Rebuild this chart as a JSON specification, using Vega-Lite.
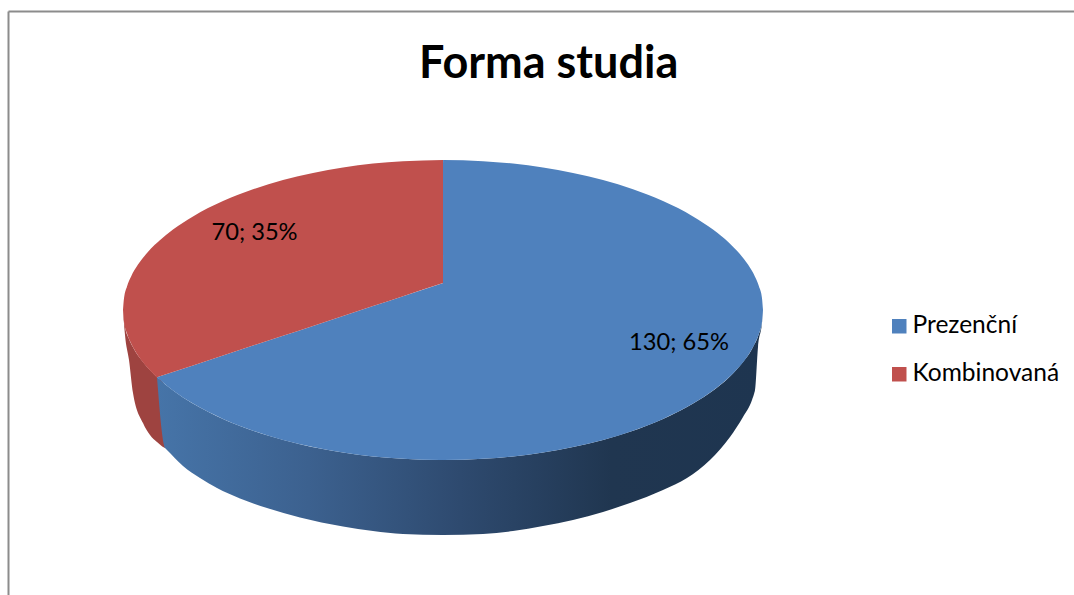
{
"$schema":"https://vega.github.io/schema/vega-lite/v6.json",
"width":1074,"height":595,"padding":0,"autosize":{"type":"none"},
"background":"white",
"title":{"text":"Forma studia","font":"Lato","fontSize":45,"fontWeight":"bold","color":"#000000","anchor":"start","dx":419,"baseline":"alphabetic","offset":-123},
"config":{"view":{"stroke":null}},
"datasets":{
"frame":[{"x":-434.5,"x2":631,"y":298.5,"y2":298.5},{"x":-434.5,"x2":-434.5,"y":298.5,"y2":-285}],
"sideBlue":[{"x":-286,"y":-67.3,"y2":-67.3},{"x":-278,"y":-74.2,"y2":-138},{"x":-277,"y":-75,"y2":-139},{"x":-260,"y":-87.5,"y2":-156},{"x":-243,"y":-97.6,"y2":-168},{"x":-226,"y":-106.2,"y2":-178},{"x":-203,"y":-116,"y2":-188.5},{"x":-176,"y":-125.3,"y2":-198},{"x":-143,"y":-134.2,"y2":-207.5},{"x":-100,"y":-142.5,"y2":-216.5},{"x":-70,"y":-146.4,"y2":-221},{"x":-40,"y":-148.8,"y2":-224},{"x":0,"y":-150,"y2":-225},{"x":40,"y":-148.8,"y2":-224},{"x":70,"y":-146.4,"y2":-221},{"x":100,"y":-142.5,"y2":-216},{"x":130,"y":-137.1,"y2":-210},{"x":160,"y":-129.9,"y2":-202},{"x":187,"y":-121.7,"y2":-193},{"x":220,"y":-108.9,"y2":-180},{"x":244,"y":-97,"y2":-168},{"x":267,"y":-82.7,"y2":-150},{"x":287,"y":-66.4,"y2":-127},{"x":300,"y":-52,"y2":-107},{"x":309,"y":-39,"y2":-90},{"x":311,"y":-35,"y2":-84},{"x":312,"y":-33.3,"y2":-80},{"x":315,"y":-26.4,"y2":-37},{"x":319,"y":-11.8,"y2":-13},{"x":320,"y":0,"y2":-2}],
"sideRed":[{"x":-320,"y":0,"y2":0},{"x":-318,"y":-16.7,"y2":-25},{"x":-314,"y":-28.9,"y2":-50},{"x":-310,"y":-37.2,"y2":-83},{"x":-300,"y":-52,"y2":-113},{"x":-293,"y":-60,"y2":-125},{"x":-286,"y":-67.3,"y2":-132},{"x":-279,"y":-74,"y2":-137.5},{"x":-278,"y":-138,"y2":-138}],
"top":[
{"forma":"Prezenční","x":-286,"y":-67.3,"y2":-67.3},{"forma":"Prezenční","x":-284,"y":-66.6,"y2":-69.1},{"forma":"Prezenční","x":-270,"y":-62,"y2":-80.5},{"forma":"Prezenční","x":-250,"y":-55.4,"y2":-93.6},{"forma":"Prezenční","x":-220,"y":-45.5,"y2":-108.9},{"forma":"Prezenční","x":-190,"y":-35.6,"y2":-120.7},{"forma":"Prezenční","x":-160,"y":-25.7,"y2":-129.9},{"forma":"Prezenční","x":-130,"y":-15.9,"y2":-137.1},{"forma":"Prezenční","x":-100,"y":-6,"y2":-142.5},{"forma":"Prezenční","x":-70,"y":3.9,"y2":-146.4},{"forma":"Prezenční","x":-40,"y":13.8,"y2":-148.8},{"forma":"Prezenční","x":-2,"y":26.3,"y2":-150},{"forma":"Prezenční","x":0,"y":27,"y2":-150},{"forma":"Prezenční","x":0.1,"y":150,"y2":-150},{"forma":"Prezenční","x":40,"y":148.8,"y2":-148.8},{"forma":"Prezenční","x":70,"y":146.4,"y2":-146.4},{"forma":"Prezenční","x":100,"y":142.5,"y2":-142.5},{"forma":"Prezenční","x":130,"y":137.1,"y2":-137.1},{"forma":"Prezenční","x":160,"y":129.9,"y2":-129.9},{"forma":"Prezenční","x":190,"y":120.7,"y2":-120.7},{"forma":"Prezenční","x":220,"y":108.9,"y2":-108.9},{"forma":"Prezenční","x":250,"y":93.6,"y2":-93.6},{"forma":"Prezenční","x":270,"y":80.5,"y2":-80.5},{"forma":"Prezenční","x":286,"y":67.3,"y2":-67.3},{"forma":"Prezenční","x":296,"y":57,"y2":-57},{"forma":"Prezenční","x":305,"y":45.4,"y2":-45.4},{"forma":"Prezenční","x":312,"y":33.3,"y2":-33.3},{"forma":"Prezenční","x":316,"y":23.6,"y2":-23.6},{"forma":"Prezenční","x":319,"y":11.8,"y2":-11.8},{"forma":"Prezenční","x":320,"y":0,"y2":0},
{"forma":"Kombinovaná","x":-320,"y":0,"y2":0},{"forma":"Kombinovaná","x":-319,"y":11.8,"y2":-11.8},{"forma":"Kombinovaná","x":-316,"y":23.6,"y2":-23.6},{"forma":"Kombinovaná","x":-312,"y":33.3,"y2":-33.3},{"forma":"Kombinovaná","x":-305,"y":45.4,"y2":-45.4},{"forma":"Kombinovaná","x":-296,"y":57,"y2":-57},{"forma":"Kombinovaná","x":-288,"y":65.4,"y2":-65.4},{"forma":"Kombinovaná","x":-286,"y":67.3,"y2":-67.3},{"forma":"Kombinovaná","x":-284,"y":69.1,"y2":-66.6},{"forma":"Kombinovaná","x":-270,"y":80.5,"y2":-62},{"forma":"Kombinovaná","x":-250,"y":93.6,"y2":-55.4},{"forma":"Kombinovaná","x":-220,"y":108.9,"y2":-45.5},{"forma":"Kombinovaná","x":-190,"y":120.7,"y2":-35.6},{"forma":"Kombinovaná","x":-160,"y":129.9,"y2":-25.7},{"forma":"Kombinovaná","x":-130,"y":137.1,"y2":-15.9},{"forma":"Kombinovaná","x":-100,"y":142.5,"y2":-6},{"forma":"Kombinovaná","x":-70,"y":146.4,"y2":3.9},{"forma":"Kombinovaná","x":-40,"y":148.8,"y2":13.8},{"forma":"Kombinovaná","x":0,"y":150,"y2":27}
],
"labels":[{"forma":"Prezenční","pocet":130,"podil":65,"label":"130; 65%","x":236,"y":-33},{"forma":"Kombinovaná","pocet":70,"podil":35,"label":"70; 35%","x":-188.5,"y":77}]
},
"encoding":{
"x":{"field":"x","type":"quantitative","axis":null,"scale":{"domain":[-443,631],"nice":false,"zero":false}},
"y":{"field":"y","type":"quantitative","axis":null,"stack":null,"scale":{"domain":[-285,310],"nice":false,"zero":false}}
},
"layer":[
{"data":{"name":"frame"},"mark":{"type":"rule","color":"#8c8c8c","strokeWidth":2},"encoding":{"x2":{"field":"x2"},"y2":{"field":"y2"}}},
{"data":{"name":"sideRed"},"mark":{"type":"area","interpolate":"monotone","color":"#9e4340"},"encoding":{"y2":{"field":"y2"}}},
{"data":{"name":"sideBlue"},"mark":{"type":"area","interpolate":"monotone","color":{"gradient":"linear","x1":0,"y1":0,"x2":1,"y2":0,"stops":[{"offset":0,"color":"#4674a8"},{"offset":0.25,"color":"#3c618f"},{"offset":0.5,"color":"#2e4a6f"},{"offset":0.75,"color":"#203650"},{"offset":1,"color":"#1e3550"}]}},"encoding":{"y2":{"field":"y2"}}},
{"data":{"name":"top"},"mark":{"type":"area","interpolate":"monotone"},"encoding":{"y2":{"field":"y2"},"color":{"field":"forma","type":"nominal","scale":{"domain":["Prezenční","Kombinovaná"],"range":["#4f81bd","#c0504d"]},"legend":{"title":null,"orient":"none","legendX":887,"legendY":314,"symbolType":"square","symbolSize":210,"symbolStrokeWidth":0,"labelFont":"Lato","labelFontSize":24.5,"labelColor":"#000000","labelOffset":1,"rowPadding":23,"labelLimit":200}}}},
{"data":{"name":"labels"},"mark":{"type":"text","font":"Lato","fontSize":23.7,"color":"#000000","align":"center","baseline":"middle"},"encoding":{"text":{"field":"label","type":"nominal"}}}
]
}
